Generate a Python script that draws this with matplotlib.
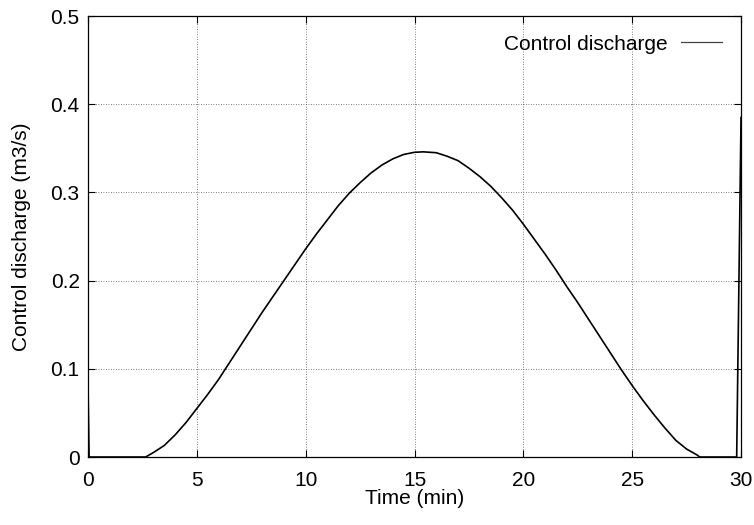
import matplotlib
matplotlib.use("Agg")
import matplotlib.pyplot as plt

plt.rcParams['font.family'] = ['Liberation Sans', 'DejaVu Sans']
plt.rcParams['font.size'] = 15

# Control discharge over the simulation (minutes, m3/s)
time_min = [0, 0.05, 1, 2, 2.65, 3, 3.5, 4, 4.5, 5, 5.5, 6, 6.5, 7, 7.5, 8,
            8.5, 9, 9.5, 10, 10.5, 11, 11.5, 12, 12.5, 13, 13.5, 14, 14.5,
            15, 15.4, 16, 16.5, 17, 17.5, 18, 18.5, 19, 19.5, 20, 20.5, 21,
            21.5, 22, 22.5, 23, 23.5, 24, 24.5, 25, 25.5, 26, 26.5, 27, 27.5,
            28, 28.1, 29, 29.8, 30]
discharge = [0.085, 0.0, 0.0, 0.0, 0.0, 0.005, 0.013, 0.025, 0.039, 0.055,
             0.071, 0.088, 0.107, 0.126, 0.145, 0.164, 0.182, 0.200, 0.218,
             0.236, 0.253, 0.269, 0.285, 0.299, 0.311, 0.322, 0.331, 0.338,
             0.343, 0.3455, 0.346, 0.345, 0.341, 0.336, 0.3275, 0.318, 0.307,
             0.294, 0.280, 0.264, 0.247, 0.230, 0.212, 0.193, 0.175, 0.156,
             0.137, 0.118, 0.099, 0.081, 0.064, 0.048, 0.033, 0.019, 0.009,
             0.002, 0.0, 0.0, 0.0, 0.385]

x_ticks = [0, 5, 10, 15, 20, 25, 30]
y_ticks = [0, 0.1, 0.2, 0.3, 0.4, 0.5]
y_labels = ['0', '0.1', '0.2', '0.3', '0.4', '0.5']

fig = plt.figure(figsize=(7.54, 5.25), dpi=100)
ax = fig.add_axes([0.1167, 0.1295, 0.8661, 0.84])

ax.plot(time_min, discharge, color='black', lw=1.2, label='Control discharge')

ax.set_xlim(0, 30)
ax.set_ylim(0, 0.5)
ax.set_xticks(x_ticks)
ax.set_yticks(y_ticks)
ax.set_yticklabels(y_labels)
ax.tick_params(direction='in', length=5, width=0.8, top=True, right=True,
               labelsize=15, pad=6)
ax.tick_params(axis='x', pad=10)
ax.grid(True, linestyle=(0, (1, 2)), color='#555555', lw=0.6)
for s in ax.spines.values():
    s.set_linewidth(0.9)

ax.set_xlabel('Time (min)', fontsize=15, labelpad=-1)
ax.set_ylabel('Control discharge (m3/s)', fontsize=15, labelpad=14)

leg = ax.legend(loc='upper right', frameon=False, markerfirst=False,
                handlelength=2.0, handletextpad=0.6, borderaxespad=0.5,
                fontsize=15)
for h in leg.get_lines():
    h.set_linewidth(0.9)
    h.set_color('#444444')

fig.savefig('out.png', dpi=100)
